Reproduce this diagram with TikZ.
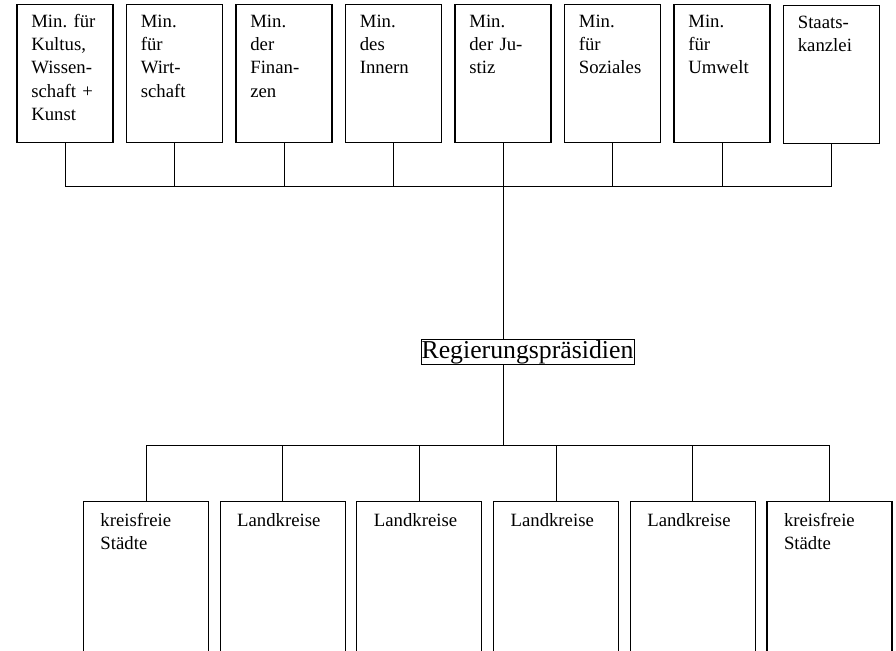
\documentclass[tikz,border=0pt]{standalone}
\usepackage{fontspec}
\setmainfont{Liberation Serif}
\begin{document}
\begin{tikzpicture}[x=0.03cm, y=-0.03cm]
    % Stili
    \tikzstyle{ministerium}=[draw, line width=0.9pt, anchor=north, align=left, text width=2.02cm, inner xsep=0.43cm, inner ysep=0pt, text height=0.69cm, text depth=3.45cm, font=\fontsize{16}{19.8}\selectfont\frenchspacing]
    \tikzstyle{kreis}=[draw, line width=0.9pt, anchor=north, align=left, text width=2.73cm, inner xsep=0.51cm, inner ysep=0pt, text height=0.75cm, text depth=4.65cm, font=\fontsize{16}{19.8}\selectfont]
    \tikzstyle{praesidium}=[draw, line width=0.6pt, inner sep=0.5pt, font=\fontsize{22}{26}\selectfont]
    \tikzstyle{linie}=[line width=0.8pt]

    \useasboundingbox (0,0) rectangle (896,651);

    % Ministerien
    \node[ministerium] (min1) at (65,4) {Min. für\\Kultus,\\Wissen-\\schaft +\\Kunst};
    \node[ministerium] (min2) at (174.5,4) {Min.\\für\\Wirt-\\schaft};
    \node[ministerium] (min3) at (284,4) {Min.\\der\\Finan-\\zen};
    \node[ministerium] (min4) at (393.5,4) {Min.\\des\\Innern};
    \node[ministerium] (min5) at (503,4) {Min.\\der Ju-\\stiz};
    \node[ministerium] (min6) at (612.5,4) {Min.\\für\\Soziales};
    \node[ministerium] (min7) at (722,4) {Min.\\für\\Umwelt};
    \node[ministerium] (kanzlei) at (831.5,5) {Staats-\\kanzlei};

    % Mittelinstanz
    \node[praesidium] (rp) at (527.5,352) {Regierungspräsidien};

    % Kreise
    \node[kreis] (kr1) at (146,501) {kreisfreie\\Städte};
    \node[kreis] (kr2) at (282.7,501) {Landkreise};
    \node[kreis] (kr3) at (419.4,501) {Landkreise};
    \node[kreis] (kr4) at (556.1,501) {Landkreise};
    \node[kreis] (kr5) at (692.8,501) {Landkreise};
    \node[kreis] (kr6) at (829.5,501) {kreisfreie\\Städte};

    % Sammelleitungen
    \coordinate (obenbus) at (0,186);
    \coordinate (untenbus) at (0,445);

    % Verbindungen oben
    \draw[linie] (min1.south) |- (obenbus -| kanzlei.south) -- (kanzlei.south);
    \draw[linie] (min2.south) -- (min2.south |- obenbus);
    \draw[linie] (min3.south) -- (min3.south |- obenbus);
    \draw[linie] (min4.south) -- (min4.south |- obenbus);
    \draw[linie] (min6.south) -- (min6.south |- obenbus);
    \draw[linie] (min7.south) -- (min7.south |- obenbus);

    % Stamm
    \draw[linie] (min5.south) -- (min5.south |- rp.north);
    \draw[linie] (rp.south -| min5.south) -- (min5.south |- untenbus);

    % Verbindungen unten
    \draw[linie] (kr1.north) |- (untenbus -| kr6.north) -- (kr6.north);
    \draw[linie] (kr2.north) -- (kr2.north |- untenbus);
    \draw[linie] (kr3.north) -- (kr3.north |- untenbus);
    \draw[linie] (kr4.north) -- (kr4.north |- untenbus);
    \draw[linie] (kr5.north) -- (kr5.north |- untenbus);
\end{tikzpicture}
\end{document}
